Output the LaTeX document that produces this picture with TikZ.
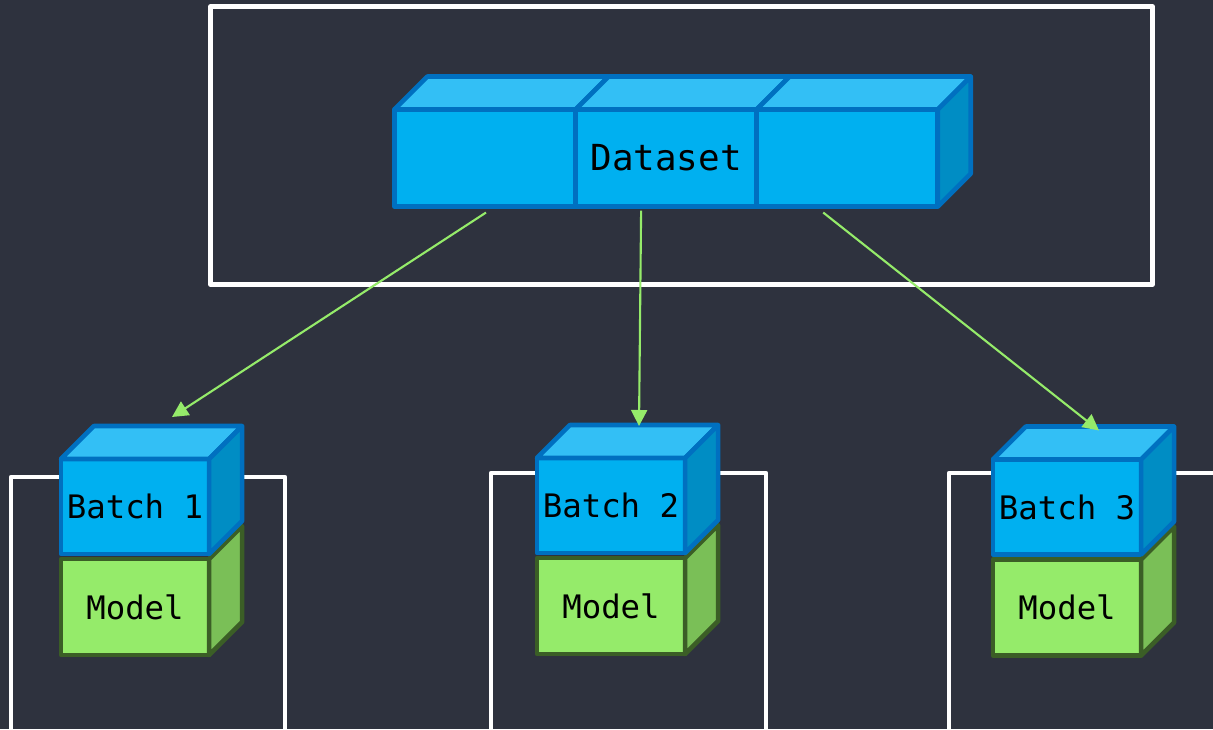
\documentclass[tikz,border=0pt]{standalone}
\usepackage{fontspec}
\setmonofont{DejaVu Sans Mono}
\usetikzlibrary{positioning, arrows.meta}
\definecolor{bgdark}{HTML}{2E323E}
\definecolor{cubeblue}{HTML}{00B0F0}
\definecolor{cubetop}{HTML}{33BFF5}
\definecolor{cubeside}{HTML}{008DC4}
\definecolor{cubeline}{HTML}{0070C0}
\definecolor{modelgreen}{HTML}{95EB6A}
\definecolor{modelside}{HTML}{7ABF57}
\definecolor{modelline}{HTML}{3B5E26}
\tikzset{
>={Triangle[length=1.6mm, width=1.6mm]}, % filled arrow heads
frame/.style={draw=white, line width=1.3pt, line join=round}, % white boxes
cube/.style={draw=cubeline, fill=cubeblue, line width=1.3pt, outer sep=0pt, inner sep=0pt, line join=round, text=black, font=\ttfamily\fontsize{9.2}{11}\selectfont}, % front face of a blue block
cubetopface/.style={draw=cubeline, fill=cubetop, line width=1.3pt, line join=round},
cubesideface/.style={draw=cubeline, fill=cubeside, line width=1.3pt, line join=round},
model/.style={cube, draw=modelline, fill=modelgreen}, % front face of a green block
modelsideface/.style={draw=modelline, fill=modelside, line width=1.3pt, line join=round},
flow/.style={->, draw=modelgreen, line width=0.6pt}, % green arrows
}

\begin{document}
\begin{tikzpicture}[x=0.01cm, y=-0.01cm]
      \fill[bgdark] (0,0) rectangle (1213,729);
      \clip (0,0) rectangle (1213,729);

      % frames
      \draw[frame] (210.5,6.5) rectangle (1152.5,284.5);
      \draw[frame] (11,477) rectangle (285,760);
      \draw[frame] (491,473) rectangle (766,760);
      \draw[frame] (949,473) rectangle (1260,760);

      % dataset
      \node[cube, minimum width=1.81cm, minimum height=0.97cm] (ds1) at (485,158) {};
      \node[cube, minimum width=1.81cm, minimum height=0.97cm, right=0pt of ds1, font=\ttfamily\fontsize{10.2}{12}\selectfont] (ds2) {Dataset};
      \node[cube, minimum width=1.81cm, minimum height=0.97cm, right=0pt of ds2] (ds3) {};
      \foreach \d in {ds1,ds2,ds3} {
        \draw[cubetopface] (\d.north west) -- ([shift={(33,-33)}]\d.north west)
          -- ([shift={(33,-33)}]\d.north east) -- (\d.north east) -- cycle;
      }
      \draw[cubesideface] (ds3.north east) -- ([shift={(33,-33)}]ds3.north east)
        -- ([shift={(33,-33)}]ds3.south east) -- (ds3.south east) -- cycle;

      % batches and models
      \node[cube, minimum width=1.48cm, minimum height=0.95cm] (batch1) at (135,506.5) {Batch 1};
      \node[cube, minimum width=1.48cm, minimum height=0.95cm] (batch2) at (611,505.5) {Batch 2};
      \node[cube, minimum width=1.48cm, minimum height=0.95cm] (batch3) at (1067,507) {Batch 3};
      \node[model, minimum width=1.48cm, minimum height=0.96cm, below=0.05cm of batch1] (model1) {Model};
      \node[model, minimum width=1.48cm, minimum height=0.96cm, below=0.05cm of batch2] (model2) {Model};
      \node[model, minimum width=1.48cm, minimum height=0.96cm, below=0.05cm of batch3] (model3) {Model};
      \foreach \i in {1,2,3} {
        \draw[modelsideface] (model\i.north east) -- ([shift={(33,-33)}]model\i.north east)
          -- ([shift={(33,-33)}]model\i.south east) -- (model\i.south east) -- cycle;
        \draw[cubetopface] (batch\i.north west) -- ([shift={(33,-33)}]batch\i.north west)
          -- ([shift={(33,-33)}]batch\i.north east) -- (batch\i.north east) -- cycle;
        \draw[cubesideface] (batch\i.north east) -- ([shift={(33,-33)}]batch\i.north east)
          -- ([shift={(33,-33)}]batch\i.south east) -- (batch\i.south east) -- cycle;
      }

      % split into batches
      \draw[flow] ([shift={(1,6)}]ds1.south) -- ([shift={(37,-42)}]batch1.north);
      \draw[flow] ([shift={(-25,4)}]ds2.south) -- ([shift={(28,-32)}]batch2.north);
      \draw[flow] ([shift={(-24,6)}]ds3.south) -- ([shift={(32,-29)}]batch3.north);
\end{tikzpicture}
\end{document}
